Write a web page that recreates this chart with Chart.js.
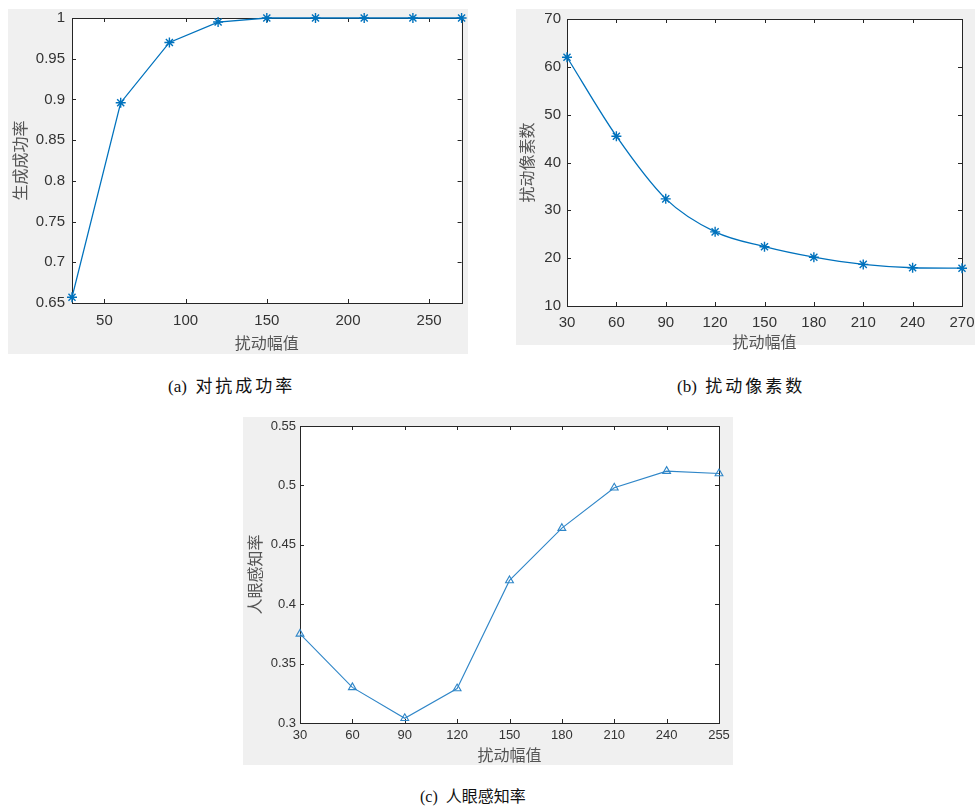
<!DOCTYPE html>
<html>
<head>
<meta charset="utf-8">
<script src="https://cdn.jsdelivr.net/npm/chart.js@4"></script>
<style>
  body { margin: 0; background: #fff; width: 975px; height: 810px; position: relative; overflow: hidden; }
  canvas { position: absolute; }
  .cap { position: absolute; white-space: nowrap; color: #111; line-height: 20px;
         font-family: "Liberation Serif", "Noto Sans CJK SC", serif; }
  .cap .zh { font-family: "Noto Sans CJK SC", sans-serif; }
</style>
</head>
<body>
<canvas id="chartA" width="460" height="345" style="left:8px;top:9px"></canvas>
<canvas id="chartB" width="459" height="356" style="left:516px;top:9px"></canvas>
<canvas id="chartC" width="490" height="348" style="left:243px;top:417px"></canvas>

<div class="cap" style="left:168px;top:375px;font-size:17px">(a)&nbsp;&nbsp;<span class="zh" style="letter-spacing:3px">对抗成功率</span></div>
<div class="cap" style="left:677px;top:375px;font-size:17px">(b)&nbsp;&nbsp;<span class="zh" style="letter-spacing:3px">扰动像素数</span></div>
<div class="cap" style="left:420px;top:785px;font-size:16px">(c)&nbsp;&nbsp;<span class="zh">人眼感知率</span></div>

<script>
// 数据
const amplitude = [30, 60, 90, 120, 150, 180, 210, 240, 270]
const successRate = [0.657, 0.896, 0.970, 0.995, 1, 1, 1, 1, 1]
const pixelCount = [62.0, 45.5, 32.4, 25.5, 22.4, 20.2, 18.7, 18.0, 17.9]
const amplitudeC = ['30', '60', '90', '120', '150', '180', '210', '240', '255']
const perception = [0.375, 0.330, 0.304, 0.329, 0.420, 0.464, 0.498, 0.512, 0.510]

// 刻度
const xTicksA = [50, 100, 150, 200, 250]
const yTicksA = [0.65, 0.7, 0.75, 0.8, 0.85, 0.9, 0.95, 1]
const xTicksB = [30, 60, 90, 120, 150, 180, 210, 240, 270]
const yTicksB = [10, 20, 30, 40, 50, 60, 70]
const yTicksC = [0.3, 0.35, 0.4, 0.45, 0.5, 0.55]

const blue = '#0072BD'
const tickColor = '#333'
const titleColor = '#555'
const cjk = '"Noto Sans CJK SC", sans-serif'
const sans = '"Liberation Sans", Arial, sans-serif'

// 灰色背景 + 坐标框 + 向内刻度 (MATLAB 风格)
const framePlugin = {
  id: 'frame',
  beforeDraw(chart, args, opts) {
    const { ctx, chartArea: a } = chart
    ctx.save()
    ctx.fillStyle = '#f0f0f0'
    ctx.fillRect(0, 0, chart.width, opts.panelHeight || chart.height)
    ctx.fillStyle = '#fff'
    ctx.fillRect(a.left, a.top, a.right - a.left, a.bottom - a.top)
    ctx.restore()
  },
  beforeDatasetsDraw(chart) {
    const { ctx, chartArea: a, scales } = chart
    const len = 4
    ctx.save()
    ctx.strokeStyle = '#262626'
    ctx.lineWidth = 1
    ctx.beginPath()
    scales.x.ticks.forEach((t, i) => {
      const px = Math.round(scales.x.getPixelForTick(i)) + 0.5
      ctx.moveTo(px, a.bottom); ctx.lineTo(px, a.bottom - len)
      ctx.moveTo(px, a.top); ctx.lineTo(px, a.top + len)
    })
    scales.y.ticks.forEach((t, i) => {
      const py = Math.round(scales.y.getPixelForTick(i)) + 0.5
      ctx.moveTo(a.left, py); ctx.lineTo(a.left + len, py)
      ctx.moveTo(a.right, py); ctx.lineTo(a.right - len, py)
    })
    ctx.stroke()
    ctx.strokeRect(Math.round(a.left) + 0.5, Math.round(a.top) + 0.5,
      Math.round(a.right - a.left), Math.round(a.bottom - a.top))
    ctx.restore()
  }
}

const fmt = v => String(+(+v).toFixed(2))

function axisX(type, opts) {
  const o = {
    type: type,
    grid: { display: false, drawTicks: false, tickLength: 0 }, border: { display: false },
    ticks: { color: tickColor, font: { family: sans, size: opts.tickSize }, padding: opts.tickPad, maxRotation: 0, autoSkip: false },
    title: { display: true, text: '扰动幅值', color: titleColor, font: { family: cjk, size: 16 }, padding: { top: 0, bottom: opts.titlePad } },
    afterFit: s => { s.height = opts.height; s.paddingLeft = 0; s.paddingRight = 0 }
  }
  if (type === 'linear') {
    o.min = opts.min; o.max = opts.max
    o.afterBuildTicks = s => { s.ticks = opts.ticks.map(v => ({ value: v })) }
  } else {
    o.offset = false
  }
  return o
}

function axisY(opts) {
  return {
    type: 'linear', min: opts.min, max: opts.max,
    grid: { display: false, drawTicks: false, tickLength: 0 }, border: { display: false },
    afterBuildTicks: s => { s.ticks = opts.ticks.map(v => ({ value: v })) },
    ticks: { color: tickColor, font: { family: sans, size: opts.tickSize }, padding: opts.tickPad, callback: fmt },
    title: { display: true, text: opts.title, color: titleColor, font: { family: cjk, size: 16 }, padding: { top: opts.titlePad, bottom: 0 } },
    afterFit: s => { s.width = opts.width; s.paddingTop = 0; s.paddingBottom = 0 }
  }
}

function baseOptions(pad, panelHeight) {
  return {
    responsive: false, animation: false,
    layout: { padding: pad },
    plugins: { legend: { display: false }, tooltip: { enabled: false }, frame: { panelHeight: panelHeight } }
  }
}

// (a) 对抗成功率
new Chart(document.getElementById('chartA').getContext('2d'), {
  type: 'line',
  data: {
    datasets: [{
      data: amplitude.map((x, i) => ({ x: x, y: successRate[i] })),
      borderColor: blue, borderWidth: 1.3, tension: 0, clip: false,
      pointStyle: 'star', pointRadius: 5, pointBorderWidth: 1.4, pointBorderColor: blue, pointBackgroundColor: blue
    }]
  },
  options: Object.assign(baseOptions({ top: 9, right: 5, left: 0, bottom: 0 }, 345), {
    scales: {
      x: axisX('linear', { min: 30, max: 270, ticks: xTicksA, tickSize: 15, tickPad: 9, height: 51, titlePad: 1 }),
      y: axisY({ min: 0.65, max: 1, ticks: yTicksA, tickSize: 15, tickPad: 7, width: 64, title: '生成成功率', titlePad: 2 })
    }
  }),
  plugins: [framePlugin]
})

// (b) 扰动像素数
new Chart(document.getElementById('chartB').getContext('2d'), {
  type: 'line',
  data: {
    datasets: [{
      data: amplitude.map((x, i) => ({ x: x, y: pixelCount[i] })),
      borderColor: blue, borderWidth: 1.3, cubicInterpolationMode: 'monotone', clip: false,
      pointStyle: 'star', pointRadius: 5, pointBorderWidth: 1.4, pointBorderColor: blue, pointBackgroundColor: blue
    }]
  },
  options: Object.assign(baseOptions({ top: 10, right: 13, left: 0, bottom: 11 }, 336), {
    scales: {
      x: axisX('linear', { min: 30, max: 270, ticks: xTicksB, tickSize: 15, tickPad: 8, height: 48, titlePad: 2 }),
      y: axisY({ min: 10, max: 70, ticks: yTicksB, tickSize: 15, tickPad: 6, width: 51, title: '扰动像素数', titlePad: 1 })
    }
  }),
  plugins: [framePlugin]
})

// (c) 人眼感知率
new Chart(document.getElementById('chartC').getContext('2d'), {
  type: 'line',
  data: {
    labels: amplitudeC,
    datasets: [{
      data: perception,
      borderColor: '#2f86c8', borderWidth: 1.1, tension: 0, clip: false,
      pointStyle: 'triangle', pointRadius: 4.5, pointBorderWidth: 1.1, pointBorderColor: '#2f86c8', pointBackgroundColor: 'rgba(0,0,0,0)'
    }]
  },
  options: Object.assign(baseOptions({ top: 9, right: 14, left: 0, bottom: 0 }, 348), {
    scales: {
      x: axisX('category', { tickSize: 13, tickPad: 5, height: 42, titlePad: 0 }),
      y: axisY({ min: 0.3, max: 0.55, ticks: yTicksC, tickSize: 13, tickPad: 4, width: 57, title: '人眼感知率', titlePad: 2 })
    }
  }),
  plugins: [framePlugin]
})
</script>
</body>
</html>
